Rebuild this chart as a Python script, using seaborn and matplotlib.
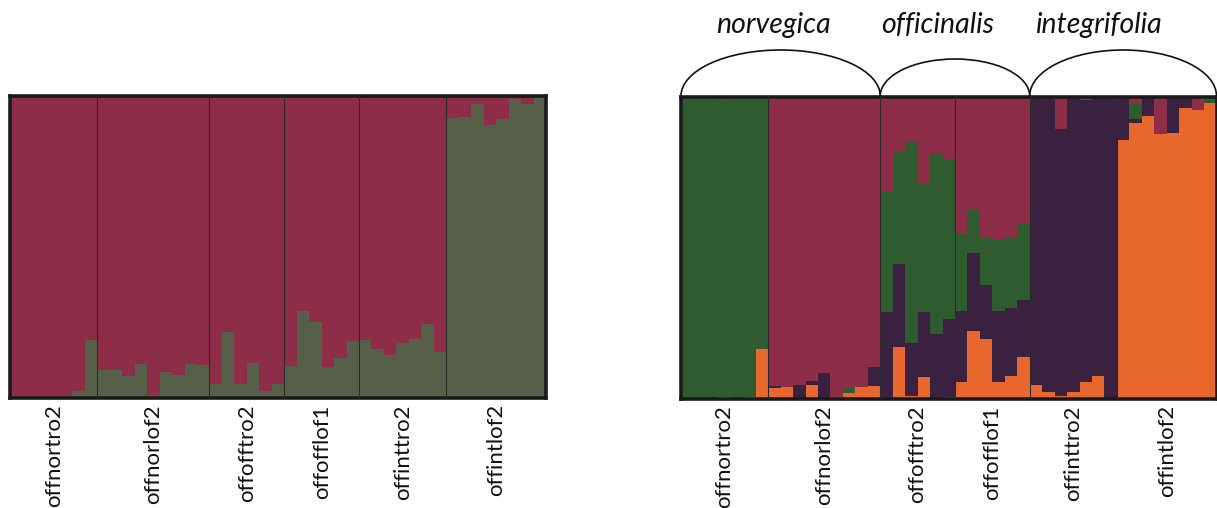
import numpy as np
import pandas as pd
import matplotlib
matplotlib.use("Agg")
import matplotlib.pyplot as plt
from matplotlib.patches import Arc
import seaborn as sns

# ---------------- data ----------------
populations = ["offnortro2", "offnorlof2", "offofftro2", "offofflof1", "offinttro2", "offintlof2"]
n_per_pop = [7, 9, 6, 6, 7, 8]

# Left panel (K=2): membership fractions per individual
left_green = [0.005, 0.005, 0.005, 0.006, 0.006, 0.023, 0.19,
              0.09, 0.09, 0.072, 0.11, 0.008, 0.083, 0.075, 0.11, 0.107,
              0.045, 0.218, 0.044, 0.114, 0.023, 0.046,
              0.103, 0.286, 0.252, 0.10, 0.131, 0.187,
              0.192, 0.161, 0.142, 0.181, 0.195, 0.245, 0.15,
              0.926, 0.931, 0.973, 0.904, 0.924, 0.991, 0.975, 0.996]
left_red = [0.995, 0.995, 0.995, 0.994, 0.994, 0.977, 0.81,
            0.91, 0.91, 0.928, 0.89, 0.992, 0.917, 0.925, 0.89, 0.893,
            0.955, 0.782, 0.956, 0.886, 0.977, 0.954,
            0.897, 0.714, 0.748, 0.9, 0.869, 0.813,
            0.808, 0.839, 0.858, 0.819, 0.805, 0.755, 0.85,
            0.074, 0.069, 0.027, 0.096, 0.076, 0.009, 0.025, 0.004]

# Right panel (K=4)
right_orange = [0.002, 0.002, 0.003, 0.004, 0.002, 0.005, 0.163,
                0.034, 0.038, 0.003, 0.045, 0.0, 0.004, 0.018, 0.037, 0.040,
                0.003, 0.172, 0.007, 0.07, 0.001, 0.005,
                0.054, 0.223, 0.197, 0.054, 0.075, 0.139,
                0.045, 0.023, 0.009, 0.022, 0.056, 0.075, 0.001,
                0.857, 0.915, 0.937, 0.877, 0.879, 0.962, 0.958, 0.98]
right_purple = [0.001, 0.001, 0.001, 0.001, 0.001, 0.001, 0.001,
                0.009, 0.0, 0.042, 0.012, 0.085, 0.0, 0.0, 0.0, 0.064,
                0.285, 0.273, 0.177, 0.216, 0.214, 0.26,
                0.237, 0.258, 0.181, 0.237, 0.225, 0.187,
                0.952, 0.970, 0.885, 0.978, 0.933, 0.925, 0.997,
                0.143, 0.011, 0.063, 0.0, 0.121, 0.038, 0.0, 0.0]
right_green = [0.995, 0.995, 0.994, 0.984, 0.995, 0.992, 0.834,
               0.0, 0.0, 0.0, 0.0, 0.0, 0.0, 0.016, 0.0, 0.0,
               0.397, 0.371, 0.671, 0.43, 0.6, 0.528,
               0.254, 0.145, 0.154, 0.237, 0.233, 0.254,
               0.0, 0.0, 0.0, 0.0, 0.0, 0.0, 0.0,
               0.0, 0.051, 0.0, 0.0, 0.0, 0.0, 0.0, 0.02]
right_red = [0.002, 0.002, 0.002, 0.011, 0.002, 0.002, 0.002,
             0.957, 0.962, 0.955, 0.943, 0.915, 0.996, 0.966, 0.963, 0.896,
             0.315, 0.184, 0.145, 0.284, 0.185, 0.207,
             0.455, 0.374, 0.468, 0.472, 0.467, 0.42,
             0.003, 0.007, 0.106, 0.0, 0.011, 0.0, 0.002,
             0.0, 0.023, 0.0, 0.123, 0.0, 0.0, 0.042, 0.0]

species = ["norvegica", "officinalis", "integrifolia"]
species_pops = [2, 2, 2]

# ---------------- style ----------------
sns.set_style("white")
plt.rcParams["font.family"] = ["Lato", "DejaVu Sans"]

C_RED = "#8E2D48"
C_GREEN_L = "#566049"
C_GREEN_R = "#2F5C2F"
C_PURPLE = "#3B2140"
C_ORANGE = "#E8672D"

W, H = 1217, 508
fig = plt.figure(figsize=(W / 100, H / 100), dpi=100)


def px_axes(x0, x1, ytop, ybot):
    return fig.add_axes([x0 / W, 1 - ybot / H, (x1 - x0) / W, (ybot - ytop) / H])


ax_l = px_axes(10, 546, 96, 397.5)
ax_r = px_axes(681, 1216.5, 97, 398.5)

n_ind = len(left_green)
ind = np.arange(n_ind)


def stacked(ax, layers, colors):
    # layers bottom -> top; draw cumulative heights from top down
    cum = np.cumsum(np.array(layers), axis=0)
    df = pd.DataFrame({"ind": ind})
    for k in range(len(layers) - 1, -1, -1):
        df["h"] = cum[k]
        sns.barplot(data=df, x="ind", y="h", color=colors[k], width=1.0,
                    saturation=1, errorbar=None, linewidth=0, edgecolor="none",
                    ax=ax)
    ax.set_xlim(-0.5, n_ind - 0.5)
    ax.set_ylim(0, 1)
    ax.set_xlabel("")
    ax.set_ylabel("")
    ax.set_xticks([])
    ax.set_yticks([])
    bounds = np.cumsum(n_per_pop)[:-1] - 0.5
    for b in bounds:
        ax.axvline(b, color="#2b2b2b", lw=0.8, zorder=5)
    for s in ax.spines.values():
        s.set_visible(True)
        s.set_color("#1a1a1a")
        s.set_linewidth(2.6)
    starts = np.concatenate([[0], np.cumsum(n_per_pop)[:-1]])
    for name, st, n in zip(populations, starts, n_per_pop):
        ax.text(st + n / 2 - 0.5, -0.022, name, rotation=90, ha="center", va="top",
                fontsize=16, transform=ax.get_xaxis_transform(), color="#111111")


stacked(ax_l, [left_green, left_red], [C_GREEN_L, C_RED])
stacked(ax_r, [right_orange, right_purple, right_green, right_red],
        [C_ORANGE, C_PURPLE, C_GREEN_R, C_RED])

# ---------------- species braces (arcs) ----------------
ov = fig.add_axes([0, 0, 1, 1], zorder=10)
ov.set_xlim(0, W)
ov.set_ylim(H, 0)
ov.axis("off")
ov.patch.set_alpha(0)

# arc extents follow population boundaries of the right panel
pop_edges_px = 681 + np.concatenate([[0], np.cumsum(n_per_pop)]) * (1216.5 - 681) / n_ind
grp_edges = np.concatenate([[0], np.cumsum(species_pops)])
arc_heights = [46, 37, 46]
text_x = [774, 938, 1098]
for i, name in enumerate(species):
    xa = pop_edges_px[grp_edges[i]]
    xb = pop_edges_px[grp_edges[i + 1]]
    ov.add_patch(Arc(((xa + xb) / 2, 96), xb - xa, 2 * arc_heights[i],
                     theta1=180, theta2=360, color="#111111", lw=1.2))
    ov.text(text_x[i], 25, name, ha="center", va="center", fontsize=20.5,
            style="italic", color="#111111")

fig.savefig("out.png", dpi=100)
